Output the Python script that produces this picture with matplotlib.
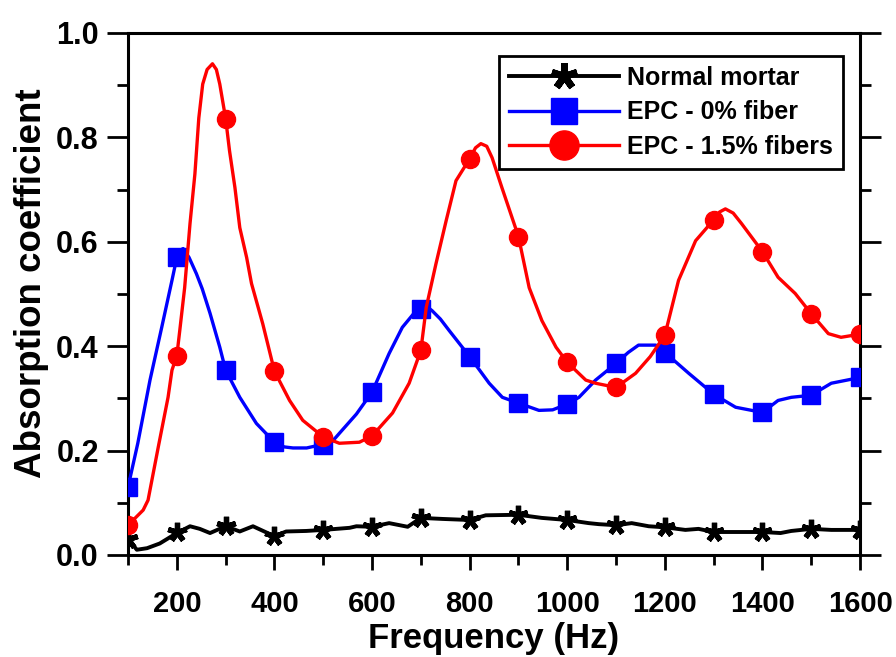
import matplotlib.pyplot as plt
from matplotlib.lines import Line2D
from matplotlib.ticker import MultipleLocator, FormatStrFormatter

plt.rcParams['font.family'] = ['Liberation Sans', 'DejaVu Sans']
plt.rcParams['font.weight'] = 'bold'

# marker points (every 100 Hz)
freq_marks = [100, 200, 300, 400, 500, 600, 700, 800, 900, 1000, 1100, 1200, 1300, 1400, 1500, 1600]
mortar_marks = [0.031, 0.044, 0.055, 0.036, 0.048, 0.054, 0.071, 0.067, 0.077, 0.067, 0.057, 0.053, 0.044, 0.044, 0.050, 0.048]
epc0_marks = [0.130, 0.570, 0.354, 0.216, 0.210, 0.312, 0.472, 0.380, 0.291, 0.289, 0.367, 0.386, 0.308, 0.273, 0.306, 0.340]
epc15_marks = [0.057, 0.382, 0.836, 0.352, 0.226, 0.228, 0.392, 0.759, 0.610, 0.369, 0.321, 0.421, 0.642, 0.581, 0.462, 0.423]

mortar_f = [100, 118, 139, 165, 200, 227, 247, 268, 300, 329, 356, 400, 424, 465, 500, 554, 568, 600,
            635, 673, 700, 745, 800, 833, 900, 948, 1000, 1044, 1065, 1100, 1132, 1167, 1200, 1242,
            1269, 1300, 1351, 1400, 1437, 1459, 1500, 1541, 1600]
mortar_a = [0.031, 0.010, 0.013, 0.022, 0.042, 0.055, 0.050, 0.042, 0.055, 0.045, 0.055, 0.036, 0.045,
            0.046, 0.048, 0.052, 0.055, 0.054, 0.061, 0.054, 0.071, 0.069, 0.067, 0.076, 0.077, 0.071,
            0.067, 0.061, 0.059, 0.057, 0.061, 0.055, 0.053, 0.048, 0.050, 0.044, 0.044, 0.044, 0.042,
            0.046, 0.050, 0.048, 0.048]

epc0_f = [100, 120, 145, 169, 190, 200, 207, 213, 225, 240, 252, 268, 288, 300, 329, 363, 400, 420,
          438, 466, 500, 519, 533, 568, 600, 635, 662, 685, 700, 712, 723, 740, 758, 800, 840, 867,
          900, 942, 970, 1000, 1024, 1058, 1100, 1125, 1146, 1181, 1200, 1249, 1300, 1345, 1400, 1432,
          1459, 1500, 1541, 1600]
epc0_a = [0.130, 0.214, 0.335, 0.436, 0.526, 0.570, 0.584, 0.587, 0.570, 0.539, 0.510, 0.463, 0.398,
          0.354, 0.302, 0.252, 0.216, 0.207, 0.205, 0.205, 0.212, 0.218, 0.233, 0.270, 0.312, 0.386,
          0.436, 0.462, 0.472, 0.476, 0.468, 0.452, 0.430, 0.380, 0.329, 0.302, 0.291, 0.277, 0.278,
          0.289, 0.302, 0.335, 0.367, 0.388, 0.402, 0.402, 0.388, 0.348, 0.308, 0.283, 0.273, 0.296,
          0.302, 0.306, 0.329, 0.340]

epc15_f = [100, 131, 141, 162, 182, 190, 200, 206, 216, 227, 237, 245, 253, 262, 273, 281, 288, 300,
           308, 319, 329, 343, 353, 376, 400, 431, 458, 500, 533, 574, 600, 642, 676, 700, 711, 731,
           752, 772, 800, 812, 823, 835, 846, 866, 900, 922, 948, 977, 1000, 1038, 1058, 1100, 1140,
           1170, 1200, 1228, 1263, 1300, 1312, 1324, 1340, 1357, 1400, 1432, 1467, 1500, 1535, 1561,
           1600]
epc15_a = [0.057, 0.086, 0.105, 0.207, 0.302, 0.354, 0.382, 0.430, 0.512, 0.635, 0.730, 0.837, 0.902,
           0.930, 0.941, 0.930, 0.902, 0.836, 0.774, 0.704, 0.627, 0.570, 0.520, 0.443, 0.352, 0.296,
           0.258, 0.226, 0.214, 0.216, 0.228, 0.272, 0.329, 0.392, 0.474, 0.558, 0.641, 0.717, 0.759,
           0.780, 0.788, 0.783, 0.761, 0.704, 0.610, 0.512, 0.449, 0.398, 0.369, 0.335, 0.329, 0.321,
           0.348, 0.380, 0.421, 0.526, 0.602, 0.642, 0.657, 0.663, 0.655, 0.635, 0.581, 0.532, 0.501,
           0.462, 0.424, 0.417, 0.423]

star = (5, 2, 0)

fig = plt.figure(figsize=(8.96, 6.57), dpi=100)
ax = fig.add_axes([0.1429, 0.1553, 0.817, 0.7945])

ax.plot(mortar_f, mortar_a, color='black', lw=2.8, zorder=3)
ax.plot(freq_marks, mortar_marks, ls='none', marker=star, ms=14, mew=3.8, color='black', zorder=3)
ax.plot(epc0_f, epc0_a, color='blue', lw=2.4, zorder=4)
ax.plot(freq_marks, epc0_marks, ls='none', marker='s', ms=12.5, color='blue', zorder=4)
ax.plot(epc15_f, epc15_a, color='red', lw=2.4, zorder=5)
ax.plot(freq_marks, epc15_marks, ls='none', marker='o', ms=13, color='red', zorder=5)

handles = [
    Line2D([], [], color='black', lw=2.8, marker=star, ms=19, mew=5),
    Line2D([], [], color='blue', lw=2.4, marker='s', ms=19),
    Line2D([], [], color='red', lw=2.4, marker='o', ms=21),
]
labels = ['Normal mortar', 'EPC - 0% fiber', 'EPC - 1.5% fibers']
leg = ax.legend(handles, labels, loc='upper right', bbox_to_anchor=(0.977, 0.956), fontsize=18,
                frameon=True, fancybox=False, edgecolor='black', framealpha=1, handlelength=4.4,
                handletextpad=0.35, borderpad=0.4, labelspacing=0.42, borderaxespad=0)
leg.get_frame().set_linewidth(2)

ax.set_xlim(100, 1600)
ax.set_ylim(0, 1.0)
ax.xaxis.set_major_locator(MultipleLocator(200))
ax.xaxis.set_minor_locator(MultipleLocator(100))
ax.yaxis.set_major_locator(MultipleLocator(0.2))
ax.yaxis.set_minor_locator(MultipleLocator(0.1))
ax.yaxis.set_major_formatter(FormatStrFormatter('%.1f'))

for s in ax.spines.values():
    s.set_linewidth(2.2)
ax.tick_params(axis='x', which='major', direction='out', length=11, width=2, labelsize=21, pad=14)
ax.tick_params(axis='x', which='minor', direction='out', length=7, width=2)
ax.tick_params(axis='y', which='major', direction='out', length=15, width=2, labelsize=22, pad=6,
               right=True)
ax.tick_params(axis='y', which='minor', direction='out', length=8, width=2, right=True)

ax.set_xlabel('Frequency (Hz)', fontsize=25, fontweight='bold', labelpad=3)
ax.set_ylabel('Absorption coefficient', fontsize=26.5, fontweight='bold')
ax.yaxis.set_label_coords(-0.108, 0.521)

plt.savefig('out.png', dpi=100)
plt.close()
